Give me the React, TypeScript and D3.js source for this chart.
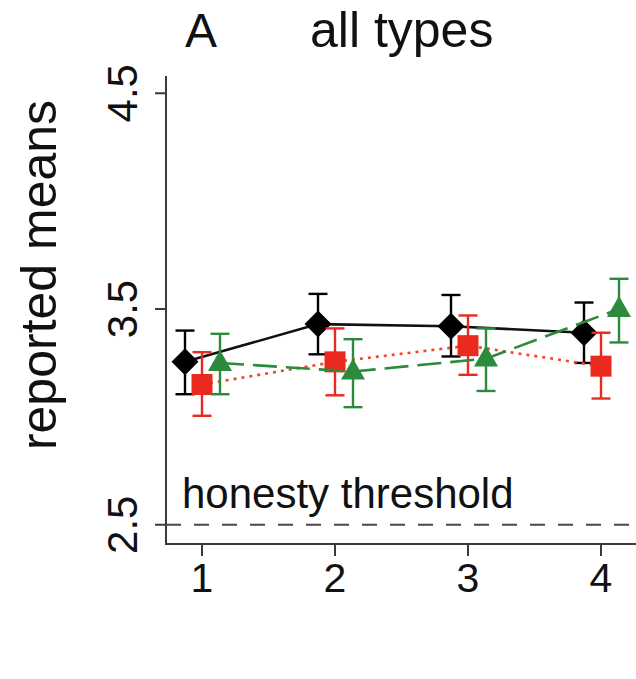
import React, { useEffect, useRef } from "react";
import * as d3 from "d3";

// rounds 1..4
const rounds = [1, 2, 3, 4];
const yTicks = [2.5, 3.5, 4.5];

// series: mean, lower, upper
const blackMean = [3.255, 3.43, 3.42, 3.39];
const blackLow = [3.105, 3.29, 3.28, 3.25];
const blackHigh = [3.4, 3.57, 3.565, 3.53];

const redMean = [3.15, 3.255, 3.33, 3.235];
const redLow = [3.005, 3.1, 3.195, 3.085];
const redHigh = [3.3, 3.41, 3.47, 3.39];

const greenMean = [3.25, 3.21, 3.27, 3.5];
const greenLow = [3.105, 3.045, 3.12, 3.345];
const greenHigh = [3.385, 3.36, 3.41, 3.64];

const threshold = 2.5;

const App = () => {
  const ref = useRef(null);
  const W = 636;
  const H = 679;

  useEffect(() => {
    const svg = d3.select(ref.current);
    svg.selectAll("*").remove();
    const font = "'Liberation Sans', Arial, sans-serif";

    const x = d3.scaleLinear().domain([1, 4]).range([202, 601]);
    // R style: ylim extended by 4%
    const y = d3.scaleLinear().domain([2.42, 4.58]).range([542, 76]);

    // axes
    svg.append("line").attr("x1", 166).attr("x2", 166).attr("y1", y(4.58)).attr("y2", 545)
      .attr("stroke", "#3a3a3a").attr("stroke-width", 2);
    svg.append("line").attr("x1", 165).attr("x2", W).attr("y1", 544).attr("y2", 544)
      .attr("stroke", "#3a3a3a").attr("stroke-width", 2);

    yTicks.forEach((t) => {
      svg.append("line").attr("x1", 155).attr("x2", 166).attr("y1", y(t)).attr("y2", y(t))
        .attr("stroke", "#3a3a3a").attr("stroke-width", 2);
      svg.append("text")
        .attr("transform", `translate(137,${y(t)}) rotate(-90)`)
        .attr("text-anchor", "middle")
        .attr("font-family", font).attr("font-size", 42).attr("fill", "#111")
        .text(String(t));
    });

    rounds.forEach((r) => {
      svg.append("line").attr("x1", x(r)).attr("x2", x(r)).attr("y1", 544).attr("y2", 556)
        .attr("stroke", "#3a3a3a").attr("stroke-width", 2);
      svg.append("text")
        .attr("x", x(r)).attr("y", 592)
        .attr("text-anchor", "middle")
        .attr("font-family", font).attr("font-size", 41).attr("fill", "#111")
        .text(String(r));
    });

    svg.append("text")
      .attr("transform", `translate(56,275) rotate(-90)`)
      .attr("text-anchor", "middle")
      .attr("font-family", font).attr("font-size", 50).attr("fill", "#111")
      .text("reported means");

    svg.append("text").attr("x", 185).attr("y", 47)
      .attr("font-family", font).attr("font-size", 48).attr("fill", "#111").text("A");
    svg.append("text").attr("x", 310).attr("y", 47)
      .attr("font-family", font).attr("font-size", 50).attr("fill", "#111").text("all types");

    // honesty threshold
    svg.append("line").attr("x1", 166).attr("x2", W).attr("y1", y(threshold)).attr("y2", y(threshold))
      .attr("stroke", "#4f4646").attr("stroke-width", 2.2).attr("stroke-dasharray", "15,13");
    svg.append("text").attr("x", 182).attr("y", 508)
      .attr("font-family", font).attr("font-size", 42).attr("fill", "#111")
      .text("honesty threshold");

    const series = [
      { mean: blackMean, low: blackLow, high: blackHigh, color: "#000", lineColor: "#111", dash: null, off: -17, shape: "diamond" },
      { mean: redMean, low: redLow, high: redHigh, color: "#ea2a1e", lineColor: "#f2452a", dash: "3,5", off: 0, shape: "square" },
      { mean: greenMean, low: greenLow, high: greenHigh, color: "#2b8a3c", lineColor: "#2b8a3c", dash: "24,9", off: 18, shape: "triangle" },
    ];

    series.forEach((s) => {
      const sx = (i) => x(rounds[i]) + s.off;
      const lg = d3.line<number>().x((d, i) => sx(i)).y((d) => y(d));
      svg.append("path").attr("d", lg(s.mean)).attr("fill", "none")
        .attr("stroke", s.lineColor).attr("stroke-width", 2.6)
        .attr("stroke-dasharray", s.dash);
      s.mean.forEach((m, i) => {
        const cx = sx(i);
        const g = svg.append("g").attr("stroke", s.color).attr("stroke-width", 2.4);
        g.append("line").attr("x1", cx).attr("x2", cx).attr("y1", y(s.low[i])).attr("y2", y(s.high[i]));
        g.append("line").attr("x1", cx - 9.5).attr("x2", cx + 9.5).attr("y1", y(s.low[i])).attr("y2", y(s.low[i]));
        g.append("line").attr("x1", cx - 9.5).attr("x2", cx + 9.5).attr("y1", y(s.high[i])).attr("y2", y(s.high[i]));
        const cy = y(m);
        if (s.shape === "diamond") {
          svg.append("path").attr("d", `M${cx},${cy - 13.5}L${cx + 13.5},${cy}L${cx},${cy + 13.5}L${cx - 13.5},${cy}Z`)
            .attr("fill", s.color);
        } else if (s.shape === "square") {
          svg.append("rect").attr("x", cx - 10.5).attr("y", cy - 10.5).attr("width", 21).attr("height", 21)
            .attr("fill", s.color);
        } else {
          svg.append("path").attr("d", `M${cx},${cy - 13}L${cx + 12},${cy + 8}L${cx - 12},${cy + 8}Z`)
            .attr("fill", s.color);
        }
      });
    });
  }, []);

  return (
    <svg ref={ref} width={W} height={H} style={{ position: "absolute", left: 0, top: 0, background: "#fff" }} />
  );
};

export default App;
